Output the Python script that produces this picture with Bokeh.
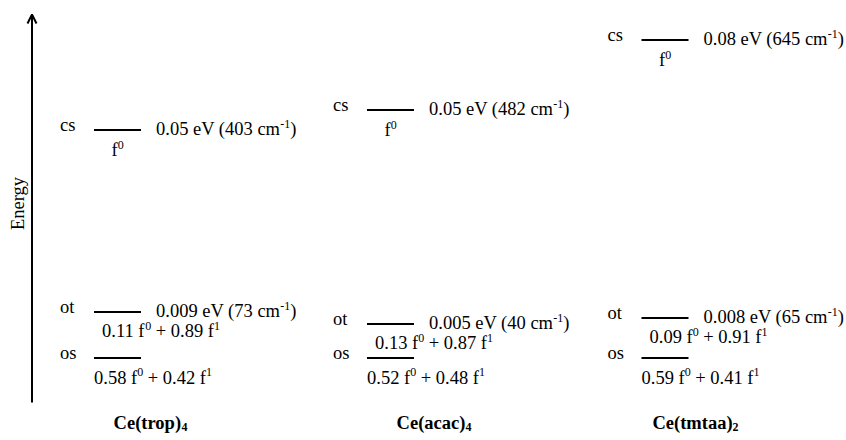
import re
import math
from bokeh.plotting import figure
from bokeh.models import Range1d, Arrow, OpenHead, ColumnDataSource
from bokeh.core.properties import value
from bokeh.embed import file_html
from bokeh.resources import INLINE

# ---------------- data ----------------
compounds = ["Ce(trop)_{4}", "Ce(acac)_{4}", "Ce(tmtaa)_{2}"]
# schematic drawn heights of the levels above the open-shell singlet (diagram units)
os_level = [0, 0, 0]
ot_level = [46, 34, 40]
cs_level = [228, 248, 318]
ot_energy = ["0.009 eV (73 cm^{-1})", "0.005 eV (40 cm^{-1})", "0.008 eV (65 cm^{-1})"]
cs_energy = ["0.05 eV (403 cm^{-1})", "0.05 eV (482 cm^{-1})", "0.08 eV (645 cm^{-1})"]
os_comp = ["0.58 f^{0} + 0.42 f^{1}", "0.52 f^{0} + 0.48 f^{1}", "0.59 f^{0} + 0.41 f^{1}"]
ot_comp = ["0.11 f^{0} + 0.89 f^{1}", "0.13 f^{0} + 0.87 f^{1}", "0.09 f^{0} + 0.91 f^{1}"]
cs_comp = ["f^{0}", "f^{0}", "f^{0}"]
state_names = ["os", "ot", "cs"]
axis_label = "Energy"

# ---------------- layout ----------------
col_x = [117, 390, 664.5]      # column centres
name_x = [150, 433.5, 695]     # compound label centres
half_w = 23.5
FONT = value("Liberation Serif")
FS = 18.5          # main font size, px
SS = 12.0          # super/subscript size, px
SUP_RAISE = 5.5
SUB_DROP = 4.0
LIFT = 7.0         # vertical correction of text baselines

# Times New Roman compatible advance widths (em)
W_REG = {' ': .25, '.': .25, '+': .564, '-': .333, '(': .333, ')': .333, 'e': .444, 'V': .722,
         'c': .444, 'm': .778, 'f': .333, 'o': .5, 's': .389, 't': .278}
W_BOLD = {'C': .722, 'e': .444, '(': .333, ')': .333, 't': .333, 'r': .444, 'o': .5, 'p': .556,
          'a': .5, 'c': .444, 'm': .833}

def width(s, size, bold=False):
    tab = W_BOLD if bold else W_REG
    return sum((0.5 if ch.isdigit() else tab.get(ch, 0.5)) for ch in s) * size

def runs(markup):
    out = []
    for part in re.split(r'(\^\{[^}]*\}|_\{[^}]*\})', markup):
        if not part:
            continue
        if part.startswith('^{'):
            out.append((part[2:-1], 'sup'))
        elif part.startswith('_{'):
            out.append((part[2:-1], 'sub'))
        else:
            out.append((part, 'reg'))
    return out

W, H = 846, 440
p = figure(width=W, height=H, output_backend="svg", toolbar_location=None,
           x_range=Range1d(0, W), y_range=Range1d(357.5 - H, 357.5),
           x_axis_type=None, y_axis_type=None, min_border=0,
           background_fill_color="white", border_fill_color="white")
p.outline_line_color = None
p.grid.visible = False

levels = {"os": os_level, "ot": ot_level, "cs": cs_level}

# level bars
xs0, xs1, ys = [], [], []
for st in state_names:
    for i, cx in enumerate(col_x):
        xs0.append(cx - half_w)
        xs1.append(cx + half_w)
        ys.append(levels[st][i])
p.segment(x0=xs0, y0=ys, x1=xs1, y1=ys, line_color="black", line_width=2)

buckets = {}

def put(x, y, t, size, bold):
    lead = len(t) - len(t.lstrip())
    s = t.strip()
    if not s:
        return
    b = buckets.setdefault((size, bold), dict(x=[], y=[], t=[]))
    b["x"].append(x + width(t[:lead], size, bold))
    b["y"].append(y)
    b["t"].append(s)

def rich(x, y, markup, bold=False, align="left"):
    y = y + LIFT
    rr = runs(markup)
    total = sum(width(t, SS if k != 'reg' else FS, bold) for t, k in rr)
    cx = x - total / 2 if align == "center" else x
    for t, k in rr:
        if k == 'reg':
            put(cx, y, t, FS, bold)
            cx += width(t, FS, bold)
        elif k == 'sup':
            put(cx, y + SUP_RAISE, t, SS, bold)
            cx += width(t, SS, bold)
        else:
            put(cx, y - SUB_DROP, t, SS, bold)
            cx += width(t, SS, bold)

for st in state_names:
    for i, cx in enumerate(col_x):
        rich(cx - 57.5, levels[st][i] - 1.5, st)
for i, cx in enumerate(col_x):
    rich(cx + 38.5, ot_level[i] - 6, ot_energy[i])
    rich(cx + 38.5, cs_level[i] - 6, cs_energy[i])
    rich(cx - 6, cs_level[i] - 27, cs_comp[i])
    rich(cx - 15.5, ot_level[i] - 26, ot_comp[i])
    rich(cx - 23.5, os_level[i] - 26.5, os_comp[i])
    rich(name_x[i], -72, compounds[i], bold=True, align="center")

for (size, bold), d in buckets.items():
    p.text(x="x", y="y", text="t", source=ColumnDataSource(d), text_font=FONT,
           text_font_size=f"{size}px", text_align="left", text_baseline="alphabetic",
           text_color="black", text_font_style="bold" if bold else "normal")

# energy axis arrow and label
p.add_layout(Arrow(end=OpenHead(size=9, line_width=2, line_color="black"),
                   x_start=31.5, y_start=-44.5, x_end=31.5, y_end=343.5,
                   line_width=2, line_color="black"))
p.text(x=[17], y=[154.5], text=[axis_label], text_font=FONT, text_font_size=f"{FS}px",
       text_align="center", text_baseline="middle", angle=math.pi / 2, text_color="black")

open("out.html", "w").write(file_html(p, INLINE))
